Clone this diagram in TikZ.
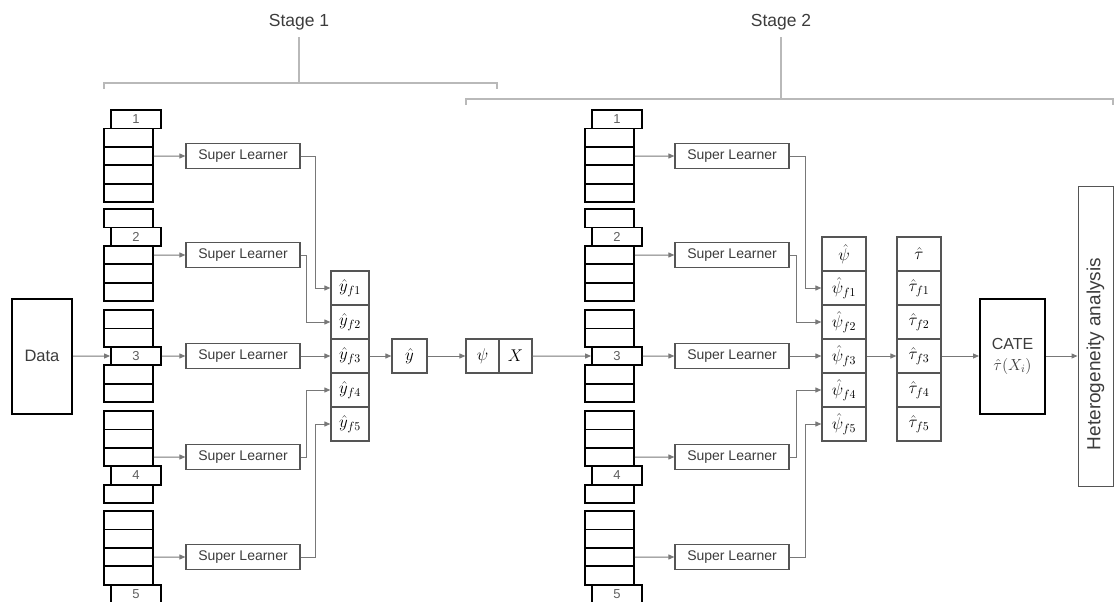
\documentclass[tikz,border=0pt]{standalone}
\usepackage{fix-cm}
\usepackage{fontspec}
\setmainfont{Liberation Sans}
\usepackage{tikz}
\usetikzlibrary{
  arrows.meta,
  positioning
}
\definecolor{FlowGray}{RGB}{120, 120, 120}
\definecolor{BracketGray}{RGB}{185, 185, 185}
\definecolor{BoxGray}{RGB}{85, 85, 85}
\definecolor{LabelGray}{RGB}{60, 60, 60}
\definecolor{FoldGray}{RGB}{95, 95, 95}
\tikzset{
    foldcell/.style={rectangle, draw=black, fill=white, line width=1.8pt, minimum width=49pt, minimum height=18.4pt, inner sep=0pt},
    foldlabel/.style={foldcell, minimum width=50pt, text=FoldGray, font=\fontsize{13}{13}\selectfont},
    learner/.style={rectangle, draw=BoxGray, line width=1.2pt, minimum width=114pt, minimum height=25pt, inner sep=0pt, text=LabelGray, font=\fontsize{14}{14}\selectfont},
    predcell/.style={rectangle, draw=BoxGray, line width=1.2pt, minimum width=38pt, minimum height=34pt, inner sep=0pt, font=\fontsize{17}{17}\selectfont},
    bigbox/.style={rectangle, draw=black, line width=2pt, minimum width=60pt, minimum height=115pt, align=center, text=LabelGray, font=\fontsize{16.5}{21}\selectfont},
    flow/.style={draw=FlowGray, line width=1pt, -{Triangle[length=6pt, width=5pt]}},
    bracket/.style={draw=BracketGray, line width=1.3pt},
    stagelabel/.style={inner sep=2pt, text=LabelGray, font=\fontsize{17.5}{17.5}\selectfont}
}

\begin{document}
\begin{tikzpicture}[x=1pt, y=-1pt]
    \useasboundingbox (0,0) rectangle (1114,602);

    \node[stagelabel] (stage1) at (299,22) {Stage 1};
    \node[stagelabel] (stage2) at (781,22) {Stage 2};
    \coordinate (b1l) at (104,89);
    \coordinate (b1r) at (497,89);
    \coordinate (b1m) at (299,83);
    \coordinate (b2l) at (466,105);
    \coordinate (b2r) at (1113,105);
    \coordinate (b2m) at (781,99);
    \draw[bracket] (b1l) -- ++(0,-6) -| (b1r);
    \draw[bracket] (b2l) -- ++(0,-6) -| (b2r);
    \draw[bracket] ([yshift=-5pt]stage1.south) -- (b1m);
    \draw[bracket] ([yshift=-5pt]stage2.south) -- (b2m);

    \foreach \st/\sx/\lx in {A/104/243, B/585/732} {
        \foreach \k/\ty in {1/110, 2/209, 3/310, 4/411, 5/511} {
            \foreach \j in {1,...,5} {
                \ifnum\j=\k
                    \node[foldlabel] (\st-\k-\j) at ({\sx+32},{\ty+18.4*\j-9.2}) {\k};
                \else
                    \node[foldcell] (\st-\k-\j) at ({\sx+24.5},{\ty+18.4*\j-9.2}) {};
                \fi
            }
            \node[learner] (sl\st-\k) at ({\lx},{\ty+46}) {Super Learner};
            \draw[flow] (\st-\k-3.east) -- (sl\st-\k.west);
        }
    }

    \node[bigbox] (data) at (42,356) {Data};

    \foreach \j in {1,...,5}
        \node[predcell] (yA-\j) at (350,{254+34*\j}) {$\hat{y}_{f\j}$};
    \node[predcell, minimum width=35pt] (yhat) at (409.5,356) {$\hat{y}$};
    \node[predcell, minimum width=33pt] (psi) at (482.5,356) {$\psi$};
    \node[predcell, minimum width=33pt] (xcov) at (515.5,356) {$X$};

    \node[predcell, minimum width=44pt] (pB-0) at (844,254) {$\hat{\psi}$};
    \node[predcell, minimum width=44pt] (tB-0) at (919,254) {$\hat{\tau}$};
    \foreach \j in {1,...,5} {
        \node[predcell, minimum width=44pt] (pB-\j) at (844,{254+34*\j}) {$\hat{\psi}_{f\j}$};
        \node[predcell, minimum width=44pt] (tB-\j) at (919,{254+34*\j}) {$\hat{\tau}_{f\j}$};
    }

    \node[bigbox, minimum width=65pt, font=\fontsize{16}{21}\selectfont] (cate) at (1012.5,356) {CATE\\$\hat{\tau}(X_i)$};
    \node[rectangle, draw=BoxGray, line width=1pt, minimum width=35pt, minimum height=300pt, text=LabelGray, font=\fontsize{19}{19}\selectfont] (het) at (1095.5,336) {\rotatebox{90}{Heterogeneity analysis\hspace*{36pt}}};

    \draw[flow] (data.east) -- (A-3-3.west);
    \draw[flow] (slA-1.east) -- ++(15,0) |- (yA-1.west);
    \draw[flow] (slA-2.east) -- ++(6,0) |- (yA-2.west);
    \draw[flow] (slA-3.east) -- (yA-3.west);
    \draw[flow] (slA-4.east) -- ++(6,0) |- (yA-4.west);
    \draw[flow] (slA-5.east) -- ++(15,0) |- (yA-5.west);
    \draw[flow] (yA-3.east) -- (yhat.west);
    \draw[flow] (yhat.east) -- (psi.west);
    \draw[flow] (xcov.east) -- (B-3-3.west);

    \draw[flow] (slB-1.east) -- ++(16,0) |- (pB-1.west);
    \draw[flow] (slB-2.east) -- ++(7,0) |- (pB-2.west);
    \draw[flow] (slB-3.east) -- (pB-3.west);
    \draw[flow] (slB-4.east) -- ++(7,0) |- (pB-4.west);
    \draw[flow] (slB-5.east) -- ++(16,0) |- (pB-5.west);
    \draw[flow] (pB-3.east) -- (tB-3.west);
    \draw[flow] (tB-3.east) -- (cate.west);
    \draw[flow] (cate.east) -- (cate.east -| het.west);
\end{tikzpicture}
\end{document}
